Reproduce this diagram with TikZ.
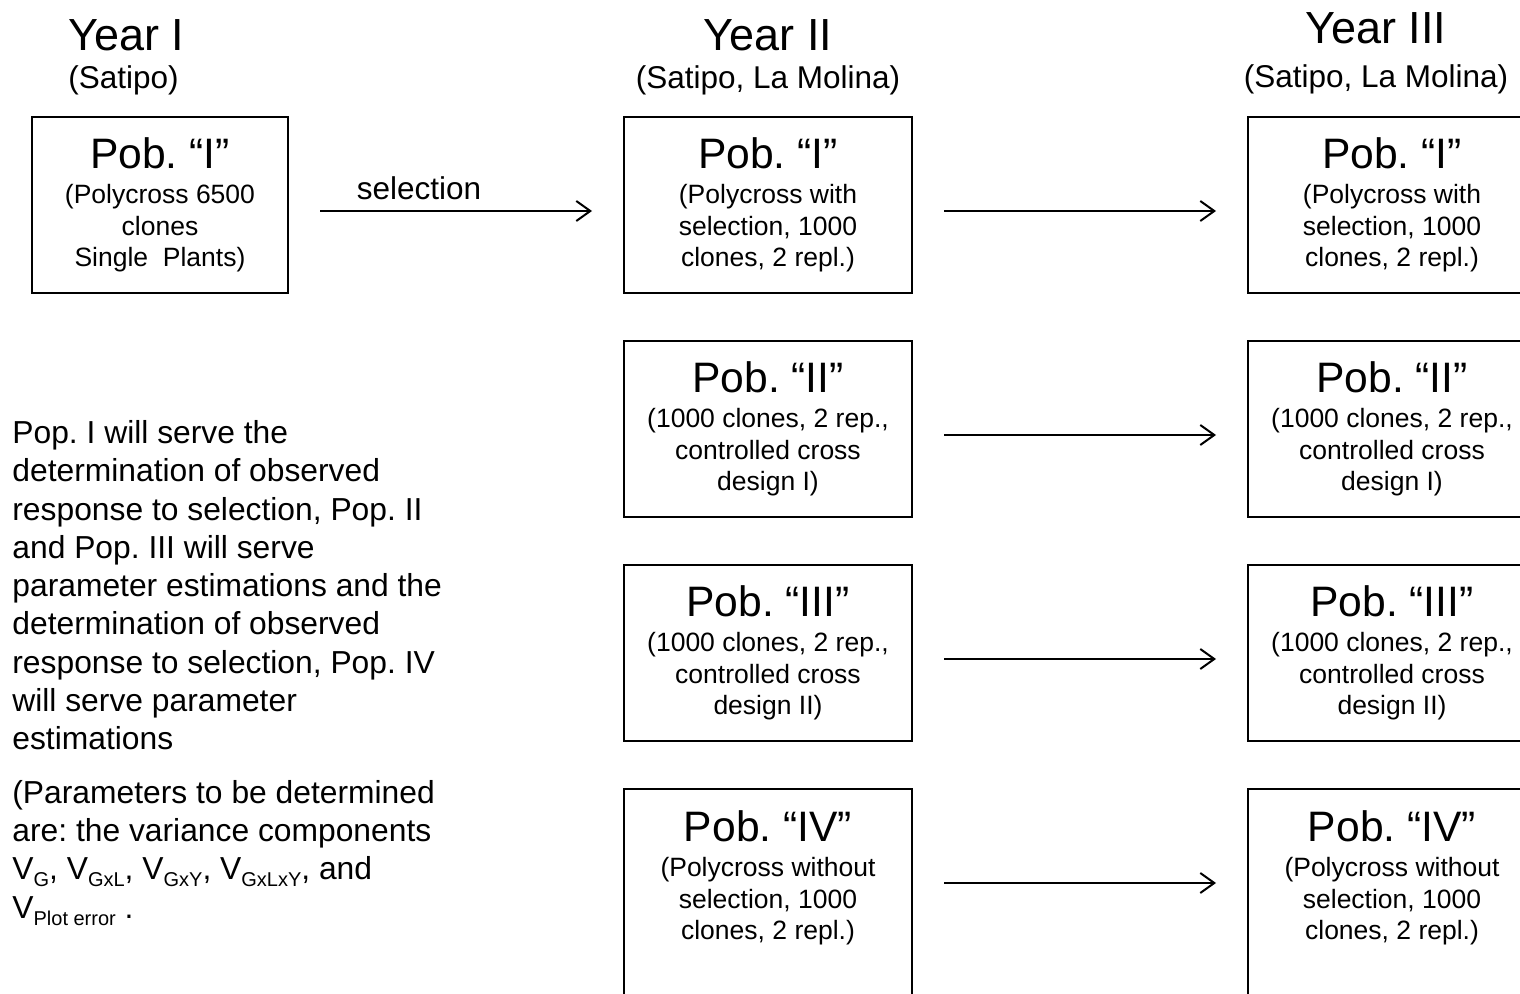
\documentclass[tikz,border=0pt]{standalone}
\usepackage{fontspec}
\setmainfont{Liberation Sans}
\usetikzlibrary{arrows.meta,positioning}
\frenchspacing

\newcommand\yearfont{\fontsize{22.5}{27}\selectfont}
\newcommand\sitefont{\fontsize{15.75}{19}\selectfont}
\newcommand\pobfont{\fontsize{21.3}{25.5}\selectfont}
\newcommand\descfont{\fontsize{13.25}{15.75}\selectfont}
\newcommand\notefont{\fontsize{15.9}{19.15}\selectfont}
\newcommand\vsub[1]{\raisebox{-3.5pt}{\fontsize{10}{12}\selectfont #1}}

\begin{document}
\begin{tikzpicture}[x=0.5pt,y=-0.5pt]
            \tikzstyle{pob} = [draw, rectangle, line width=1pt, align=center, font=\descfont, minimum width=144pt, minimum height=88pt, inner sep=0pt, outer sep=0pt]
            \tikzstyle{head} = [inner sep=0pt]
            \tikzstyle{flow} = [-{Straight Barb[length=7pt,width=10pt]}, line width=1pt, shorten <=16pt, shorten >=16pt]

            \useasboundingbox (0,0) rectangle (1520,994);
            \clip (0,0) rectangle (1520,994);

            \node [head, anchor=base west, font=\yearfont] (year1) at (68,51) {Year I};
            \node [head, anchor=base west, font=\sitefont] (site1) at (68,89) {(Satipo)};
            \node [head, anchor=base, font=\yearfont] (year2) at (768,51) {Year II};
            \node [head, anchor=base, font=\sitefont] (site2) at (768,89) {(Satipo, La Molina)};
            \node [head, anchor=base, font=\yearfont] (year3) at (1376,44) {Year III};
            \node [head, anchor=base, font=\sitefont] (site3) at (1376,88) {(Satipo, La Molina)};

            \node [pob, minimum width=128pt, anchor=north] (first) at (160,117) {{\pobfont Pob. “I”}\\[1.75pt](Polycross 6500\\clones\\Single\ \ Plants)};
            \node [pob, right = 168pt of first] (y2p1) {{\pobfont Pob. “I”}\\[1.75pt](Polycross with\\selection, 1000\\clones, 2 repl.)};
            \node [pob, below = 24pt of y2p1] (y2p2) {{\pobfont Pob. “II”}\\[1.75pt](1000 clones, 2 rep.,\\controlled cross\\design I)};
            \node [pob, below = 24pt of y2p2] (y2p3) {{\pobfont Pob. “III”}\\[1.75pt](1000 clones, 2 rep.,\\controlled cross\\design II)};
            \node [pob, below = 24pt of y2p3, inner ysep=11pt, text depth=60pt] (y2p4) {{\pobfont Pob. “IV”}\\[1.75pt](Polycross without\\selection, 1000\\clones, 2 repl.)};
            \node [pob, right = 168pt of y2p1] (y3p1) {{\pobfont Pob. “I”}\\[1.75pt](Polycross with\\selection, 1000\\clones, 2 repl.)};
            \node [pob, right = 168pt of y2p2] (y3p2) {{\pobfont Pob. “II”}\\[1.75pt](1000 clones, 2 rep.,\\controlled cross\\design I)};
            \node [pob, right = 168pt of y2p3] (y3p3) {{\pobfont Pob. “III”}\\[1.75pt](1000 clones, 2 rep.,\\controlled cross\\design II)};
            \node [pob, right = 168pt of y2p4, inner ysep=11pt, text depth=60pt] (y3p4) {{\pobfont Pob. “IV”}\\[1.75pt](Polycross without\\selection, 1000\\clones, 2 repl.)};

            \node [head, anchor=north west, align=left, font=\notefont] (note) at (12,420) {Pop. I will serve the\\determination of observed\\response to selection, Pop. II\\and Pop. III will serve\\parameter estimations and the\\determination of observed\\response to selection, Pop. IV\\will serve parameter\\estimations\\[7.5pt](Parameters to be determined\\are: the variance components\\V\vsub{G}, V\vsub{GxL}, V\vsub{GxY}, V\vsub{GxLxY}, and\\V\vsub{Plot error}\ .};

            \draw [flow] ([yshift=-47pt]first.north east) -- node[above=2pt, pos=0.39, font=\sitefont] (sel) {selection} ([yshift=-47pt]y2p1.north west);
            \draw [flow] ([yshift=-47pt]y2p1.north east) -- ([yshift=-47pt]y3p1.north west);
            \draw [flow] ([yshift=-47pt]y2p2.north east) -- ([yshift=-47pt]y3p2.north west);
            \draw [flow] ([yshift=-47pt]y2p3.north east) -- ([yshift=-47pt]y3p3.north west);
            \draw [flow] ([yshift=-47pt]y2p4.north east) -- ([yshift=-47pt]y3p4.north west);
\end{tikzpicture}
\end{document}
